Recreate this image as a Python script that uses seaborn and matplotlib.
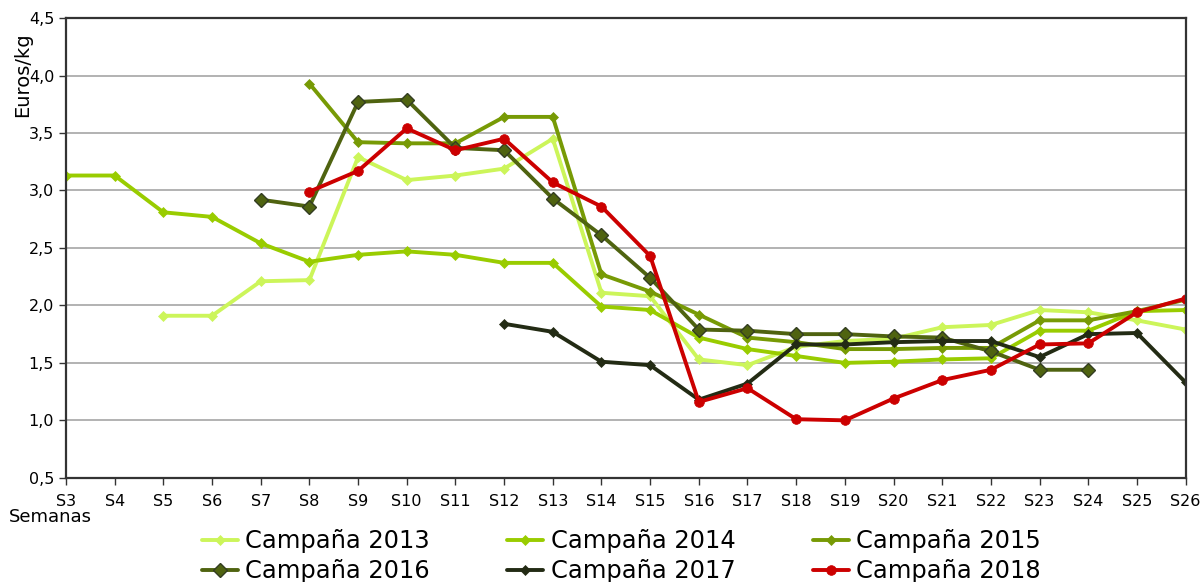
import matplotlib
matplotlib.use("Agg")
import matplotlib.pyplot as plt
import seaborn as sns
import pandas as pd

weeks = ["S" + str(i) for i in range(3, 27)]

c2013 = [None, None, 1.91, 1.91, 2.21, 2.22, 3.29, 3.09, 3.13, 3.19, 3.45, 2.11,
         2.08, 1.53, 1.48, 1.64, 1.69, 1.71, 1.81, 1.83, 1.96, 1.94, 1.87, 1.79]
c2014 = [3.13, 3.13, 2.81, 2.77, 2.54, 2.38, 2.44, 2.47, 2.44, 2.37, 2.37, 1.99,
         1.96, 1.72, 1.62, 1.56, 1.50, 1.51, 1.53, 1.54, 1.78, 1.78, 1.95, 1.96]
c2015 = [None, None, None, None, None, 3.93, 3.42, 3.41, 3.41, 3.64, 3.64, 2.27,
         2.12, 1.92, 1.72, 1.68, 1.62, 1.62, 1.63, 1.63, 1.87, 1.87, 1.95, 2.05]
c2016 = [None, None, None, None, 2.92, 2.86, 3.77, 3.79, 3.37, 3.35, 2.93, 2.61,
         2.24, 1.79, 1.78, 1.75, 1.75, 1.73, 1.72, 1.60, 1.44, 1.44, None, None]
c2017 = [None, None, None, None, None, None, None, None, None, 1.84, 1.77, 1.51,
         1.48, 1.18, 1.32, 1.66, 1.66, 1.68, 1.69, 1.69, 1.55, 1.75, 1.76, 1.33]
c2018 = [None, None, None, None, None, 2.99, 3.17, 3.54, 3.35, 3.45, 3.07, 2.86,
         2.43, 1.16, 1.28, 1.01, 1.00, 1.19, 1.35, 1.44, 1.66, 1.67, 1.94, 2.06]

series = [
    ("Campaña 2013", c2013, "#ccf55a", "D", 5, None),
    ("Campaña 2014", c2014, "#99cc00", "D", 5, None),
    ("Campaña 2015", c2015, "#779a05", "D", 5, None),
    ("Campaña 2016", c2016, "#4f6310", "D", 7, "#333d22"),
    ("Campaña 2017", c2017, "#232b14", "D", 5, None),
    ("Campaña 2018", c2018, "#cc0000", "o", 7, None),
]

sns.set_style("white")
plt.rcParams["font.family"] = ["DejaVu Sans"]
plt.rcParams["text.color"] = "black"
plt.rcParams["axes.labelcolor"] = "black"
plt.rcParams["xtick.color"] = "black"
plt.rcParams["ytick.color"] = "black"

fig = plt.figure(figsize=(12, 5.82), dpi=100)
ax = fig.add_axes([0.055, 0.179, 0.933, 0.790])

for name, vals, color, mk, ms, mec in series:
    df = pd.DataFrame({"pos": range(len(weeks)), "val": vals}).dropna()
    sns.lineplot(data=df, x="pos", y="val", ax=ax, color=color, lw=2.8,
                 marker=mk, markersize=ms, markeredgecolor=mec or color,
                 markeredgewidth=1 if mec else 0.5, label=name)

ax.set_xlim(0, len(weeks) - 1)
ax.set_ylim(0.5, 4.5)
ax.set_xticks(range(len(weeks)))
ax.set_xticklabels(weeks)
yt = [0.5, 1.0, 1.5, 2.0, 2.5, 3.0, 3.5, 4.0, 4.5]
ax.set_yticks(yt)
ax.set_yticklabels([f"{v:.1f}".replace(".", ",") for v in yt])
ax.tick_params(axis="both", labelsize=11.5, length=5, width=1, color="#333333",
               labelcolor="black", direction="out", bottom=True, left=True)
ax.tick_params(axis="x", pad=7)
ax.yaxis.grid(True, color="#a6a6a6", lw=1.2)
ax.xaxis.grid(False)
for s in ax.spines.values():
    s.set_color("#333333")
    s.set_linewidth(1.6)

ax.set_xlabel("")
ax.set_ylabel("Euros/kg", fontsize=14, color="black")
ax.yaxis.set_label_coords(-0.030, 0.876)
fig.text(0.007, 1 - 517 / 582, "Semanas", fontsize=13, va="center", ha="left",
         color="black")

# row-major legend order (2013, 2014, 2015 / 2016, 2017, 2018)
h, l = ax.get_legend_handles_labels()
order = [0, 3, 1, 4, 2, 5]
ax.legend([h[i] for i in order], [l[i] for i in order],
          loc="center", bbox_to_anchor=(0.496, -0.171), ncol=3,
          frameon=False, fontsize=17.4, handlelength=1.5, handletextpad=0.3,
          columnspacing=3.2, labelspacing=0.25, labelcolor="black")

fig.savefig("out.png", dpi=100)
